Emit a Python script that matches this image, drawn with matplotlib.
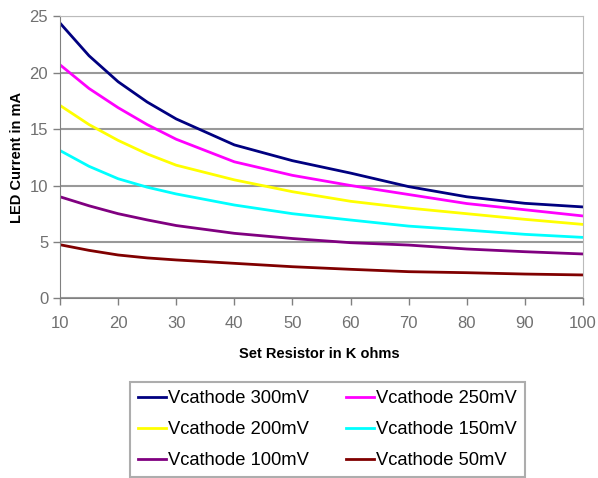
import numpy as np
import matplotlib.pyplot as plt

plt.rcParams["font.family"] = ["Liberation Sans", "DejaVu Sans"]

# resistor values (K ohms) and LED current readings (mA)
resistor = [10, 15, 20, 25, 30, 40, 50, 60, 70, 80, 90, 100]
i_300 = [24.4, 21.5, 19.2, 17.4, 15.9, 13.6, 12.2, 11.1, 9.9, 9.0, 8.42, 8.1]
i_250 = [20.7, 18.6, 16.9, 15.4, 14.1, 12.1, 10.9, 10.0, 9.2, 8.4, 7.85, 7.3]
i_200 = [17.1, 15.4, 14.0, 12.8, 11.8, 10.5, 9.45, 8.6, 8.0, 7.5, 7.0, 6.55]
i_150 = [13.1, 11.7, 10.6, 9.85, 9.25, 8.27, 7.5, 6.94, 6.4, 6.05, 5.67, 5.4]
i_100 = [9.0, 8.2, 7.5, 6.95, 6.45, 5.76, 5.3, 4.93, 4.72, 4.37, 4.13, 3.93]
i_50 = [4.75, 4.25, 3.84, 3.58, 3.4, 3.1, 2.8, 2.57, 2.36, 2.27, 2.15, 2.07]

labels = ["Vcathode 300mV", "Vcathode 250mV", "Vcathode 200mV",
          "Vcathode 150mV", "Vcathode 100mV", "Vcathode 50mV"]
colors = ["#000080", "#FF00FF", "#FFFF00", "#00FFFF", "#800080", "#800000"]
series = [i_300, i_250, i_200, i_150, i_100, i_50]

fig = plt.figure(figsize=(5.98, 4.78), dpi=100)
ax = fig.add_axes([60 / 598, 1 - 298.3 / 478, 523 / 598, 282 / 478])

lines = []
for y, c, lab in zip(series, colors, labels):
    ln, = ax.plot(resistor, y, color=c, lw=2, label=lab)
    lines.append(ln)

ax.set_xlim(10, 100)
ax.set_ylim(0, 25)
ax.set_xticks(np.arange(10, 101, 10))
ax.set_yticks(np.arange(0, 26, 5))
ax.yaxis.grid(True, color="#999999", lw=1.5)
ax.set_axisbelow(True)
for s in ax.spines.values():
    s.set_color("#bbbbbb")
ax.spines["left"].set_color("#808080")
ax.spines["bottom"].set_color("#808080")
ax.tick_params(axis="both", direction="out", color="#808080", labelcolor="#707070",
               labelsize=12, length=5, width=1)
ax.tick_params(axis="x", pad=8)

ax.set_xlabel("Set Resistor in K ohms", fontsize=10.5, fontweight="bold")
ax.set_ylabel("LED Current in mA", fontsize=10.5, fontweight="bold")
ax.xaxis.set_label_coords(0.496, -(354 - 298.3) / 282)
ax.yaxis.set_label_coords(-(60 - 17) / 523, 0.5)
ax.xaxis.label.set_va("center")
ax.yaxis.label.set_va("center")

# legend filled row-wise like the original (matplotlib fills column-first)
order = [0, 2, 4, 1, 3, 5]
leg = fig.legend([lines[k] for k in order], [labels[k] for k in order],
                 ncol=2, loc="upper left", bbox_to_anchor=(130 / 598, 1 - 382 / 478),
                 borderaxespad=0, fontsize=13.2, frameon=True, fancybox=False,
                 handlelength=1.5, handletextpad=0.15, columnspacing=2.0,
                 labelspacing=0.76, borderpad=0.45, edgecolor="#999999")
leg.get_frame().set_linewidth(1.5)

fig.savefig("out.png", dpi=100)
